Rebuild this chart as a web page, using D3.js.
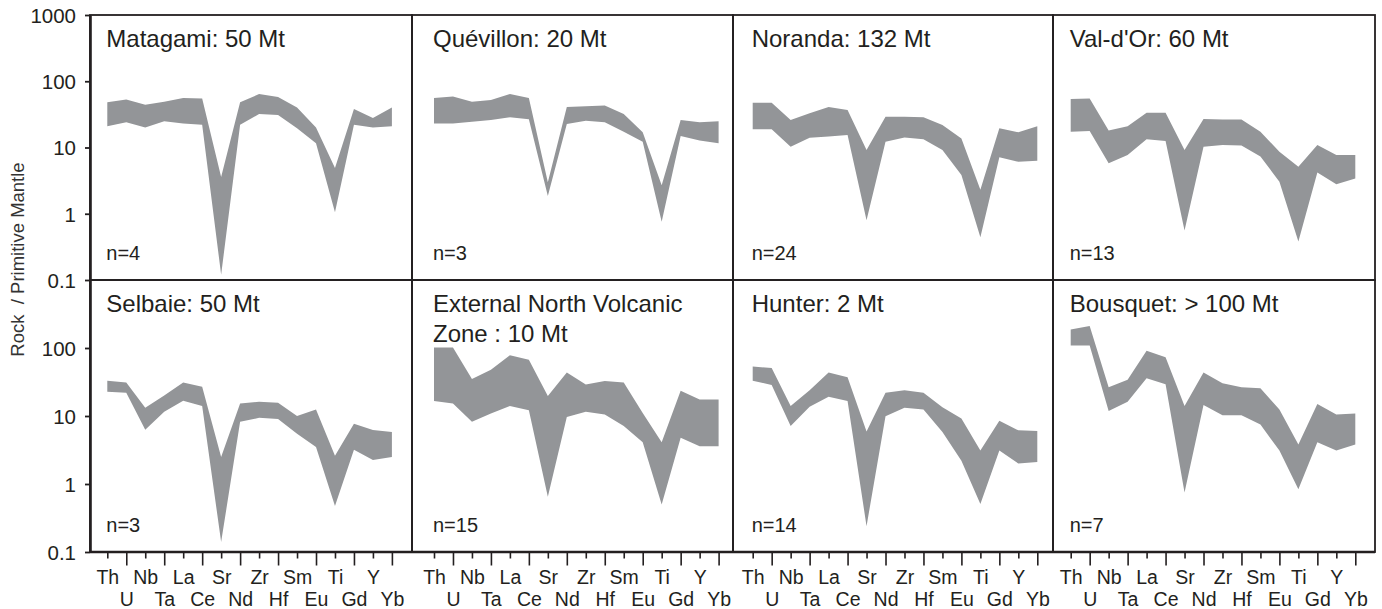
<!DOCTYPE html>
<html>
<head>
<meta charset="utf-8">
<script src="https://cdn.jsdelivr.net/npm/d3@7"></script>
<style>
  html, body { margin: 0; padding: 0; background: #fff; }
  svg { display: block; font-family: "Liberation Sans", Arial, Helvetica, sans-serif; }
</style>
</head>
<body>
<svg id="chart" width="1382" height="609"></svg>
<script>
// Trace elements, ordered along the x axis of every spider diagram
const elements = ["Th", "U", "Nb", "Ta", "La", "Ce", "Sr", "Nd", "Zr", "Hf", "Sm", "Eu", "Ti", "Gd", "Y", "Yb"];
const yTicksTop = [1000, 100, 10, 1, 0.1];
const yTicksBottom = [100, 10, 1, 0.1];

// Upper / lower envelopes of rock / primitive mantle ratios, one pair per deposit
const matagamiMax  = [48, 53, 44, 49, 56, 55, 3.6, 48, 64, 58, 40, 20, 4.9, 38, 28, 40];
const matagamiMin  = [21, 24, 20, 25, 23, 22, 0.12, 22, 32, 31, 19.5, 11.6, 1.05, 22, 20, 21];
const quevillonMax = [56, 59, 49, 52, 64, 56, 3.0, 41, 42, 43, 32, 17, 2.7, 26, 24, 25];
const quevillonMin = [23, 23, 24.5, 26, 28.5, 26.6, 1.85, 22.6, 25.4, 24, 17.3, 12.2, 0.76, 14.9, 12.7, 11.6];
const norandaMax   = [47.5, 47.5, 26, 32.8, 41, 36.8, 9.2, 29, 29, 28.5, 21.9, 13.7, 2.3, 19.5, 17, 21];
const norandaMin   = [18.8, 18.8, 10.3, 14, 14.6, 15.5, 0.8, 12.2, 14.2, 13.3, 9.2, 3.85, 0.44, 7.1, 6.1, 6.3];
const valdorMax    = [54, 55, 18, 21, 33.6, 33.6, 9.2, 26.9, 26.5, 26.5, 17.3, 8.6, 5.1, 10.9, 7.7, 7.7];
const valdorMin    = [17.3, 17.7, 5.8, 7.7, 13.3, 12.5, 0.56, 10.3, 10.9, 10.7, 7.3, 3.05, 0.38, 4.2, 2.8, 3.4];
const selbaieMax   = [33, 31, 13.2, 20, 31, 27, 2.5, 15.3, 16.2, 15.7, 10, 12.5, 2.6, 7.7, 6.2, 5.8];
const selbaieMin   = [22.8, 22, 6.3, 11.5, 16.8, 14, 0.14, 8.2, 9.4, 9.0, 5.5, 3.5, 0.475, 3.2, 2.26, 2.5];
const envzMax      = [102, 102, 35, 48, 78, 67, 19.7, 43.6, 29, 32.8, 31, 11.1, 4.1, 23.6, 17.5, 17.5];
const envzMin      = [16.6, 15.3, 8.2, 10.9, 14, 12.2, 0.65, 9.7, 11.5, 10.5, 7.1, 4.1, 0.5, 4.8, 3.6, 3.6];
const hunterMax    = [53.6, 50.6, 14, 24, 43.6, 37, 5.9, 22, 24, 22, 13.4, 9.2, 3.1, 8.5, 6.15, 6.0];
const hunterMin    = [33, 28.6, 7.1, 13.7, 19.2, 16.6, 0.24, 9.9, 13.2, 12.5, 5.8, 2.2, 0.51, 3.1, 2.0, 2.1];
const bousquetMax  = [187, 210, 26.4, 34, 91, 73, 14, 43.6, 30.3, 26.4, 25.6, 12.5, 3.8, 15, 10.5, 10.9];
const bousquetMin  = [109, 109, 11.8, 16.2, 36, 29.3, 0.75, 14.5, 10.3, 10.3, 7.5, 3.1, 0.84, 4.1, 3.1, 3.8];

// Panel titles (multi-line titles split into lines) and sample counts
const titles = [
  ["Matagami: 50 Mt"], ["Quévillon: 20 Mt"], ["Noranda: 132 Mt"], ["Val-d'Or: 60 Mt"],
  ["Selbaie: 50 Mt"], ["External North Volcanic", "Zone : 10 Mt"], ["Hunter: 2 Mt"], ["Bousquet: > 100 Mt"]
];
const counts = [4, 3, 24, 13, 3, 15, 14, 7];
const maxima = [matagamiMax, quevillonMax, norandaMax, valdorMax, selbaieMax, envzMax, hunterMax, bousquetMax];
const minima = [matagamiMin, quevillonMin, norandaMin, valdorMin, selbaieMin, envzMin, hunterMin, bousquetMin];

// Layout of the 4 x 2 grid
const colEdges = [90, 412, 733, 1053, 1375];
const rowEdges = [15, 280, 552];
const firstX = [107.3, 434, 752.7, 1070.7];
const spanX = 284.6;

const ink = "#231f20";
const bandFill = "#939598";

const svg = d3.select("#chart");

const yScales = [0, 1].map(r =>
  d3.scaleLog().domain([0.1, 1000]).range([rowEdges[r + 1], rowEdges[r]]));
const xScales = [0, 1, 2, 3].map(c =>
  d3.scalePoint().domain(elements).range([firstX[c], firstX[c] + spanX]));

// Envelope bands
maxima.forEach((hi, i) => {
  const r = Math.floor(i / 4), c = i % 4;
  const x = xScales[c], y = yScales[r];
  const rows = elements.map((e, k) => ({ e, hi: hi[k], lo: minima[i][k] }));
  const area = d3.area()
    .x(d => x(d.e))
    .y0(d => y(d.lo))
    .y1(d => y(d.hi));
  svg.append("path")
    .datum(rows)
    .attr("d", area)
    .attr("fill", bandFill)
    .attr("stroke", "none");
});

// Panel frames
for (let r = 0; r < 2; r++) {
  for (let c = 0; c < 4; c++) {
    svg.append("rect")
      .attr("x", colEdges[c]).attr("y", rowEdges[r])
      .attr("width", colEdges[c + 1] - colEdges[c])
      .attr("height", rowEdges[r + 1] - rowEdges[r])
      .attr("fill", "none").attr("stroke", ink).attr("stroke-width", 1.8);
  }
}

// Titles and sample counts
titles.forEach((lines, i) => {
  const r = Math.floor(i / 4), c = i % 4;
  const tx = firstX[c] - 1;
  const t = svg.append("text")
    .attr("x", tx).attr("y", rowEdges[r] + 31.5)
    .attr("font-size", 24).attr("fill", ink);
  lines.forEach((line, j) => {
    t.append("tspan").attr("x", tx).attr("dy", j === 0 ? 0 : 30).text(line);
  });
  svg.append("text")
    .attr("x", tx).attr("y", rowEdges[r + 1] - 20)
    .attr("font-size", 20).attr("fill", ink)
    .text("n=" + counts[i]);
});

// Left logarithmic axes
const fmt = d => String(d);
[yTicksTop, yTicksBottom].forEach((vals, r) => {
  const g = svg.append("g")
    .attr("transform", `translate(${colEdges[0]},0)`)
    .call(d3.axisLeft(yScales[r]).tickValues(vals).tickFormat(fmt)
      .tickSizeInner(5).tickSizeOuter(0).tickPadding(9));
  g.select(".domain").attr("stroke", ink).attr("stroke-width", 2.6);
  g.selectAll(".tick line").attr("stroke", ink).attr("stroke-width", 1.8);
  g.selectAll(".tick text")
    .attr("fill", ink).attr("font-size", 20.5)
    .attr("font-family", "Liberation Sans, Arial, sans-serif")
    .attr("dy", "0.36em");
});

// Bottom element axes with staggered labels
xScales.forEach((x, c) => {
  const g = svg.append("g")
    .attr("transform", `translate(0,${rowEdges[2]})`)
    .call(d3.axisBottom(x).tickSizeInner(6).tickSizeOuter(0).tickPadding(0));
  g.select(".domain").remove();
  g.selectAll(".tick line")
    .attr("stroke", ink).attr("stroke-width", 1.6)
    .attr("y2", (d, k) => (k % 2 ? 13.5 : 6.5));
  g.selectAll(".tick text")
    .attr("fill", ink).attr("font-size", 19.5)
    .attr("font-family", "Liberation Sans, Arial, sans-serif")
    .attr("dy", null)
    .attr("y", (d, k) => (k % 2 ? 53.5 : 31.5));
});

// Continuous bottom axis line across all columns
svg.append("line")
  .attr("x1", colEdges[0]).attr("x2", colEdges[4])
  .attr("y1", rowEdges[2]).attr("y2", rowEdges[2])
  .attr("stroke", ink).attr("stroke-width", 2.6);

// Y-axis title
svg.append("text")
  .attr("transform", `translate(24,${(163 + 356) / 2}) rotate(-90)`)
  .attr("text-anchor", "middle")
  .attr("font-size", 18.5).attr("fill", "#333")
  .attr("xml:space", "preserve")
  .style("white-space", "pre")
  .text("Rock  / Primitive Mantle");
</script>
</body>
</html>
